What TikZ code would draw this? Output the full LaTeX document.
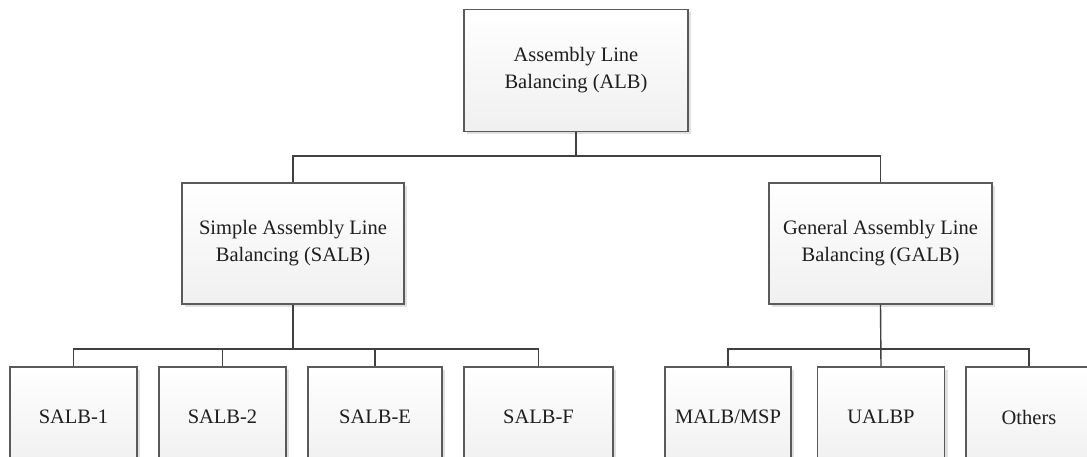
\documentclass[tikz,border=0pt]{standalone}
\usepackage{fontspec}
\setmainfont{Liberation Serif}
\usetikzlibrary{shadows}
\definecolor{boxline}{HTML}{5A5A5A}
\definecolor{conn}{HTML}{404040}
\definecolor{txt}{HTML}{1E1E1E}
\begin{document}
\begin{tikzpicture}[x=1pt,y=-1pt,
  box/.style={draw=boxline, line width=1.1pt, rectangle, align=center,
    top color=white, bottom color=black!6, text=txt,
    copy shadow={shadow xshift=3pt, shadow yshift=-3pt, draw=none, fill=black!12},
    font=\fontsize{20.5}{27}\selectfont, inner sep=0pt},
  conline/.style={draw=conn, line width=1.4pt}]
\useasboundingbox (0,0) rectangle (1087,457);
\clip (0,0) rectangle (1087,457);
\fill[white] (0,0) rectangle (1087,457);
% upper levels
\node[box, minimum width=224pt, minimum height=122pt] (alb) at (576,70.5) {Assembly Line\\Balancing (ALB)};
\node[box, minimum width=222pt, minimum height=121pt] (salb) at (293,243.5) {Simple Assembly Line\\Balancing (SALB)};
\node[box, minimum width=223pt, minimum height=121pt] (galb) at (880.5,243.5) {General Assembly Line\\Balancing (GALB)};
% bottom row
\node[box, minimum width=127pt, minimum height=100pt] (s1) at (73.5,417) {SALB-1};
\node[box, minimum width=127pt, minimum height=100pt] (s2) at (222.5,417) {SALB-2};
\node[box, minimum width=134pt, minimum height=100pt] (se) at (375,417) {SALB-E};
\node[box, minimum width=149pt, minimum height=100pt] (sf) at (538.5,417) {SALB-F};
\node[box, minimum width=126pt, minimum height=100pt] (malb) at (728,417) {MALB/MSP};
\node[box, minimum width=127pt, minimum height=100pt] (ualbp) at (881,417) {UALBP};
\node[box, minimum width=126pt, minimum height=100pt] (oth) at (1029,417) {Others};
% bus coordinates
\coordinate (bustop) at (576,156);
\coordinate (busl) at (293,349);
\coordinate (busr) at (881,349);
% connectors
\draw[conline] (alb.south) -- (bustop);
\draw[conline] (salb.north) |- (bustop) -| (galb.north);
\draw[conline] (salb.south) -- (busl);
\draw[conline] (s1.north) |- (busl) -| (sf.north);
\draw[conline] (s2.north) -- (s2.north |- busl);
\draw[conline] (se.north) -- (se.north |- busl);
\draw[conline] (galb.south) -- (ualbp.north);
\draw[conline] (malb.north) |- (busr) -| (oth.north);
\end{tikzpicture}
\end{document}
